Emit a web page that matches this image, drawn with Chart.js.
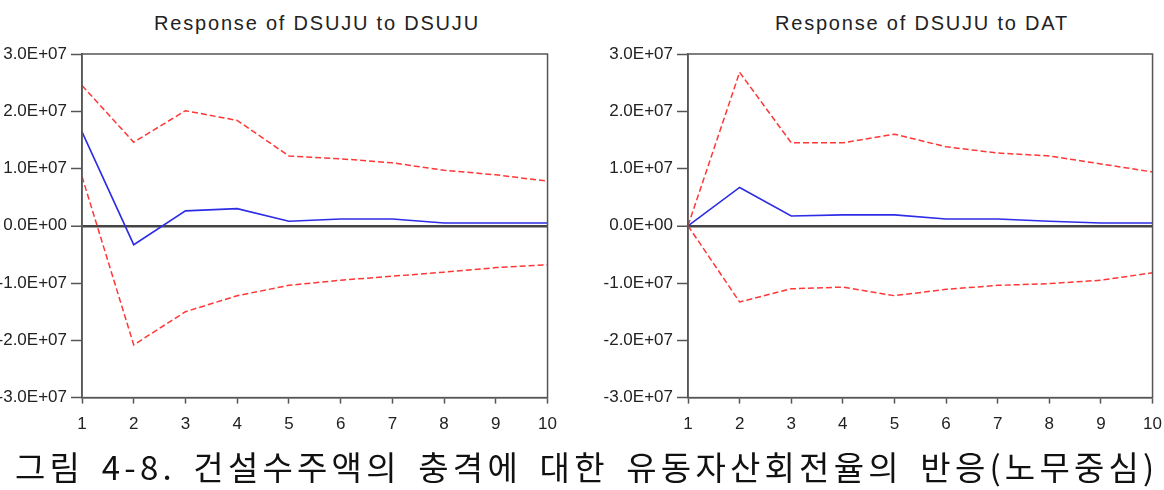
<!DOCTYPE html>
<html>
<head>
<meta charset="utf-8">
<script src="https://cdn.jsdelivr.net/npm/chart.js@4.4.1/dist/chart.umd.min.js"></script>
<style>
  html, body { margin: 0; padding: 0; background: #fff; }
  body { width: 1164px; height: 490px; position: relative; overflow: hidden;
         font-family: "Liberation Sans", Arial, sans-serif; }
  canvas { position: absolute; top: 0; }
  .ttl { position: absolute; top: 12px; font-size: 20px; letter-spacing: 1.8px; color: #222;
         white-space: nowrap; transform: translateX(-50%); }
  #cap { position: absolute; left: 15px; top: 442px; font-family: "Noto Sans CJK KR", sans-serif;
         font-size: 33px; letter-spacing: 4.2px; word-spacing: 6px; color: #111; white-space: pre; }
</style>
</head>
<body>
<div class="ttl" style="left:317px">Response of DSUJU to DSUJU</div>
<div class="ttl" style="left:922px">Response of DSUJU to DAT</div>
<canvas id="left" width="576" height="448" style="left:-8px"></canvas>
<canvas id="right" width="575" height="448" style="left:598px"></canvas>
<div id="cap">그림 4-8. 건설수주액의 충격에 대한 유동자산회전율의 반응(노무중심)</div>
<script>
// periods after the shock
const periods = ['1', '2', '3', '4', '5', '6', '7', '8', '9', '10'];

// Response of DSUJU to DSUJU
const selfResp  = [1.64e7, -0.33e7, 0.26e7, 0.30e7, 0.08e7, 0.12e7, 0.12e7, 0.05e7, 0.05e7, 0.05e7];
const selfUpper = [2.45e7, 1.46e7, 2.01e7, 1.84e7, 1.22e7, 1.17e7, 1.10e7, 0.97e7, 0.89e7, 0.78e7];
const selfLower = [0.86e7, -2.08e7, -1.50e7, -1.22e7, -1.04e7, -0.95e7, -0.88e7, -0.81e7, -0.73e7, -0.68e7];

// Response of DSUJU to DAT
const datResp  = [0, 0.67e7, 0.17e7, 0.19e7, 0.19e7, 0.12e7, 0.12e7, 0.08e7, 0.05e7, 0.05e7];
const datUpper = [0, 2.68e7, 1.45e7, 1.45e7, 1.60e7, 1.38e7, 1.27e7, 1.22e7, 1.08e7, 0.94e7];
const datLower = [0, -1.33e7, -1.10e7, -1.07e7, -1.22e7, -1.11e7, -1.04e7, -1.01e7, -0.95e7, -0.82e7];

const BLUE = 'rgb(45,45,230)';
const RED = 'rgb(255,55,55)';
const AXIS = '#555';
const FONT = { family: '"Liberation Sans", Arial, sans-serif', size: 17 };

function sciLabel(v) {
  // 30000000 -> 3.0E+07
  return Number(v).toExponential(1).toUpperCase()
    .replace(/E([+-])(\d)$/, (m, s, d) => 'E' + s + '0' + d);
}

const frame = {
  id: 'frame',
  afterDraw(chart) {
    const a = chart.chartArea, ctx = chart.ctx;
    ctx.save();
    ctx.strokeStyle = AXIS;
    ctx.lineWidth = 1.5;
    ctx.strokeRect(a.left, a.top, a.right - a.left, a.bottom - a.top);
    ctx.restore();
  }
};

function makeChart(id, mid, hi, lo) {
  const band = { borderColor: RED, borderWidth: 1.5, borderDash: [6, 3], pointRadius: 0, fill: false, tension: 0 };
  return new Chart(document.getElementById(id), {
    type: 'line',
    data: {
      labels: periods,
      datasets: [
        Object.assign({ data: hi }, band),
        Object.assign({ data: lo }, band),
        { data: mid, borderColor: BLUE, borderWidth: 1.6, pointRadius: 0, fill: false, tension: 0 }
      ]
    },
    options: {
      responsive: false,
      animation: false,
      layout: { padding: { top: 54, right: 12, bottom: 2, left: 0 } },
      plugins: { legend: { display: false }, tooltip: { enabled: false } },
      scales: {
        x: {
          grid: { drawOnChartArea: false, tickLength: 6, color: AXIS, tickColor: AXIS, tickWidth: 1.5 },
          border: { color: AXIS, width: 1.5 },
          ticks: { font: FONT, color: '#222', padding: 11, maxRotation: 0, autoSkip: false }
        },
        y: {
          min: -3e7, max: 3e7,
          afterFit(s) { s.width = 90; },
          ticks: { stepSize: 1e7, callback: sciLabel, font: FONT, color: '#222', padding: 4 },
          grid: {
            tickLength: 11,
            tickColor: AXIS,
            tickWidth: 1.5,
            color: c => (c.tick && c.tick.value === 0 ? '#444' : 'rgba(0,0,0,0)'),
            lineWidth: c => (c.tick && c.tick.value === 0 ? 2.5 : 1)
          },
          border: { color: AXIS, width: 1.5 }
        }
      }
    },
    plugins: [frame]
  });
}

makeChart('left', selfResp, selfUpper, selfLower);
makeChart('right', datResp, datUpper, datLower);
</script>
</body>
</html>
